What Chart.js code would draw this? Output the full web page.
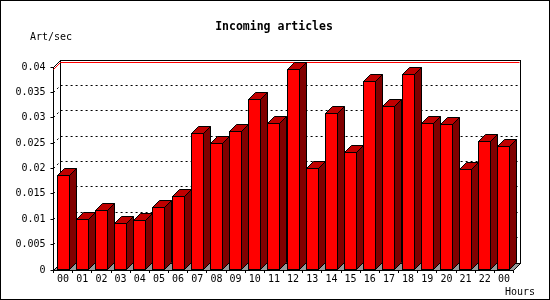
<!DOCTYPE html>
<html>
<head>
<meta charset="utf-8">
<script src="https://cdn.jsdelivr.net/npm/chart.js@4/dist/chart.umd.min.js"></script>
<style>
  html, body { margin: 0; padding: 0; background: #fff; }
  canvas { display: block; }
</style>
</head>
<body>
<canvas id="inChart" width="550" height="300"></canvas>
<script>
// data
const hours = ['00','01','02','03','04','05','06','07','08','09','10','11',
               '12','13','14','15','16','17','18','19','20','21','22','00'];
const articlesPerSec = [0.01866, 0.00999, 0.01176, 0.0092, 0.00979, 0.01235, 0.01452, 0.02693,
                        0.02497, 0.02733, 0.03363, 0.0289, 0.03955, 0.01996, 0.03087, 0.02319,
                        0.03718, 0.03225, 0.03856, 0.0289, 0.0287, 0.01984, 0.02536, 0.02437];
const yTickLabels = ['0','0.005','0.01','0.015','0.02','0.025','0.03','0.035','0.04'];
const yMax = 0.04;
const yStep = 0.005;

const DEPTH = 7;
const monoFont = '"DejaVu Sans Mono", "Liberation Mono", monospace';
const px = v => Math.floor(v) + 0.5;

const depth3d = {
  id: 'depth3d',
  beforeDatasetsDraw(chart) {
    const ctx = chart.ctx;
    const { left: L, right: R, top: T, bottom: B } = chart.chartArea;
    const y = chart.scales.y;
    const d = DEPTH;
    ctx.save();
    ctx.lineWidth = 1;

    // back wall
    ctx.fillStyle = '#fff';
    ctx.fillRect(px(L + d), px(T - d), px(R + d) - px(L + d), px(B - d) - px(T - d));
    ctx.strokeStyle = '#000';
    ctx.strokeRect(px(L + d), px(T - d), px(R + d) - px(L + d), px(B - d) - px(T - d));

    // dotted grid on the back wall and left wall
    ctx.setLineDash([2, 3]);
    y.ticks.forEach(t => {
      if (t.value <= 0 || t.value >= yMax) return;
      const yy = y.getPixelForValue(t.value);
      ctx.beginPath();
      ctx.moveTo(px(L), px(yy));
      ctx.lineTo(px(L + d), px(yy - d));
      ctx.lineTo(px(R + d), px(yy - d));
      ctx.stroke();
    });
    ctx.setLineDash([]);

    // left wall top edge
    ctx.beginPath();
    ctx.moveTo(px(L), px(T));
    ctx.lineTo(px(L + d), px(T - d));
    ctx.stroke();

    // maximum line
    const ym = y.getPixelForValue(Math.max(...articlesPerSec));
    ctx.strokeStyle = '#ff0000';
    ctx.beginPath();
    ctx.moveTo(px(L), px(ym));
    ctx.lineTo(px(L + d), px(ym - d));
    ctx.lineTo(px(R + d) - 1, px(ym - d));
    ctx.stroke();

    // floor
    ctx.fillStyle = '#999';
    ctx.strokeStyle = '#000';
    ctx.beginPath();
    ctx.moveTo(px(L), px(B));
    ctx.lineTo(px(R), px(B));
    ctx.lineTo(px(R + d), px(B - d));
    ctx.lineTo(px(L + d), px(B - d));
    ctx.closePath();
    ctx.fill();
    ctx.stroke();
    ctx.restore();
  },
  afterDatasetsDraw(chart) {
    const ctx = chart.ctx;
    const d = DEPTH;
    ctx.save();
    ctx.lineWidth = 1;
    ctx.strokeStyle = '#000';
    chart.getDatasetMeta(0).data.forEach(bar => {
      const { x, y, base, width } = bar.getProps(['x', 'y', 'base', 'width'], true);
      const l = px(x - width / 2), r = px(x + width / 2), t = px(y), b = px(base);
      // top face
      ctx.fillStyle = '#c00000';
      ctx.beginPath();
      ctx.moveTo(l, t);
      ctx.lineTo(l + d, t - d);
      ctx.lineTo(r + d, t - d);
      ctx.lineTo(r, t);
      ctx.closePath();
      ctx.fill();
      ctx.stroke();
      // side face
      ctx.fillStyle = '#800000';
      ctx.beginPath();
      ctx.moveTo(r, t);
      ctx.lineTo(r + d, t - d);
      ctx.lineTo(r + d, b - d);
      ctx.lineTo(r, b);
      ctx.closePath();
      ctx.fill();
      ctx.stroke();
      // front outline
      ctx.strokeRect(l, t, r - l, b - t);
    });
    ctx.restore();
  },
  afterDraw(chart) {
    const ctx = chart.ctx;
    ctx.save();
    ctx.fillStyle = '#000';
    ctx.textBaseline = 'middle';
    ctx.font = 'bold 11.5px ' + monoFont;
    ctx.textAlign = 'center';
    ctx.fillText('Incoming articles', 274, 27);
    ctx.font = '10px ' + monoFont;
    ctx.textAlign = 'left';
    ctx.fillText('Art/sec', 30, 37);
    ctx.fillText('Hours', 505, 292);
    ctx.strokeStyle = '#000';
    ctx.lineWidth = 1;
    ctx.strokeRect(0.5, 0.5, 549, 299);
    ctx.restore();
  }
};

new Chart(document.getElementById('inChart').getContext('2d'), {
  type: 'bar',
  data: {
    labels: hours,
    datasets: [{
      data: articlesPerSec,
      backgroundColor: '#ff0000',
      borderColor: '#000',
      borderWidth: 0,
      barPercentage: 0.63,
      categoryPercentage: 1
    }]
  },
  options: {
    responsive: false,
    animation: false,
    layout: { padding: { left: 0, right: 36.5, top: 67, bottom: 0 } },
    plugins: { legend: { display: false }, tooltip: { enabled: false }, title: { display: false } },
    scales: {
      x: {
        afterFit: s => { s.height = 30; },
        grid: { drawOnChartArea: false, tickLength: 3, color: '#000' },
        border: { color: '#000' },
        ticks: { color: '#000', padding: 0, autoSkip: false, maxRotation: 0,
                 font: { family: monoFont, size: 10 } }
      },
      y: {
        min: 0,
        max: yMax,
        afterFit: s => { s.width = 53.5; },
        grid: { drawOnChartArea: false, tickLength: 3, color: '#000' },
        border: { color: '#000' },
        ticks: { stepSize: yStep, color: '#000', padding: 5,
                 callback: (v, i) => yTickLabels[i],
                 font: { family: monoFont, size: 10 } }
      }
    }
  },
  plugins: [depth3d]
});
</script>
</body>
</html>
